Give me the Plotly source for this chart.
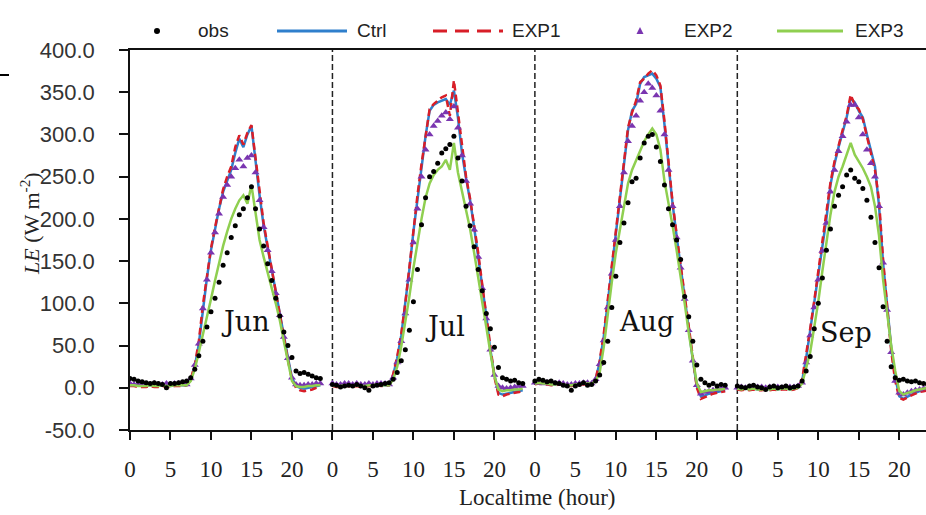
import plotly.graph_objects as go

# Half-hourly local time within one month's mean diurnal cycle
HALF_HOURS = [i * 0.5 for i in range(48)]
MONTHS = ["Jun", "Jul", "Aug", "Sep"]
MONTH_SPAN = 25  # hours reserved for each month on the shared x axis

# ---- Observed latent heat flux (W m-2) ----
jun_obs = [11, 10, 8, 7, 6, 5, 6, 5, 4, 0, 5, 5, 6, 7,
           8, 12, 22, 38, 55, 72, 90, 106, 125, 145, 160, 178, 192, 205, 212, 225, 238,
           212, 188, 168, 147, 127, 106, 85, 66, 50, 36, 20, 17, 18, 16, 14, 12, 11]
jul_obs = [4, 3, 1, 2, 3, 2, 4, 2, 0, -3, 2, 3, 4, 5,
           6, 10, 18, 32, 45, 68, 102, 140, 193, 225, 250, 256, 266, 278, 283, 288, 298,
           272, 245, 215, 192, 167, 140, 115, 88, 70, 48, 24, 12, 10, 8, 9, 6, 5]
aug_obs = [8, 10, 9, 7, 8, 6, 5, 3, 2, -3, 2, 4, 6, 3,
           4, 8, 15, 30, 55, 95, 132, 172, 195, 219, 244, 248, 272, 290, 298, 300, 285,
           268, 240, 212, 193, 175, 152, 108, 84, 55, 27, 10, 6, 3, 5, 2, 4, 3]
sep_obs = [2, 1, 0, 2, 3, 1, 0, -2, 1, 2, 0, 1, 2, 0,
           1, 2, 8, 20, 37, 70, 100, 130, 163, 188, 215, 228, 238, 252, 258, 248, 244,
           236, 222, 202, 172, 142, 96, 55, 25, 12, 9, 10, 8, 7, 8, 6, 5, 4]

# ---- Ctrl run ----
jun_ctrl = [4, 3, 3, 2, 2, 3, 2, 2, 3, 2, 2, 3, 3, 3,
            3, 10, 25, 52, 95, 130, 163, 188, 212, 232, 245, 258, 278, 295, 285, 300, 310,
            268, 228, 192, 165, 140, 115, 88, 62, 36, 12, 2, 0, -1, 0, 1, 2, 3]
jul_ctrl = [3, 2, 2, 3, 3, 2, 3, 2, 2, 3, 3, 4, 3, 3,
            3, 15, 35, 62, 98, 140, 185, 225, 262, 298, 328, 335, 338, 340, 342, 335, 352,
            320, 278, 248, 222, 190, 158, 120, 85, 45, 15, -6, -8, -7, -6, -5, -4, -3]
aug_ctrl = [5, 6, 5, 5, 4, 4, 5, 4, 3, 3, 4, 4, 5, 5,
            5, 10, 30, 60, 100, 140, 180, 222, 262, 305, 328, 336, 360, 368, 370, 372, 366,
            356, 312, 262, 218, 180, 145, 108, 70, 33, 2, -10, -9, -7, -6, -5, -4, -3]
sep_ctrl = [-1, -2, -1, -2, -1, -2, -2, -1, -2, -1, -2, -1, -1, -2,
            -1, 0, 8, 35, 68, 100, 135, 168, 200, 240, 265, 285, 302, 320, 343, 338, 328,
            320, 300, 280, 262, 215, 148, 98, 48, 12, -10, -13, -10, -8, -6, -4, -3, -2]

# ---- EXP1 run ----
jun_exp1 = [2, 2, 1, 1, 1, 2, 1, 1, 2, 1, 1, 2, 2, 2,
            3, 10, 27, 55, 98, 133, 165, 190, 214, 235, 250, 262, 285, 299, 288, 302, 311,
            272, 232, 195, 168, 142, 116, 88, 60, 33, 10, 0, -3, -4, -3, -2, 0, 1]
jul_exp1 = [2, 1, 1, 2, 2, 1, 2, 1, 1, 2, 2, 3, 2, 2,
            3, 16, 37, 64, 100, 143, 188, 228, 265, 300, 330, 336, 340, 344, 346, 322, 364,
            325, 282, 250, 224, 192, 160, 122, 86, 44, 13, -8, -10, -8, -7, -6, -5, -4]
aug_exp1 = [4, 5, 4, 4, 3, 3, 4, 3, 2, 2, 3, 3, 4, 4,
            4, 10, 32, 63, 103, 143, 184, 226, 266, 308, 326, 340, 362, 366, 372, 376, 370,
            358, 316, 265, 220, 182, 146, 108, 70, 32, 0, -13, -11, -9, -7, -6, -5, -4]
sep_exp1 = [-2, -3, -2, -3, -2, -3, -3, -2, -3, -2, -3, -2, -2, -3,
            -2, 0, 10, 38, 70, 103, 138, 172, 205, 243, 268, 288, 305, 322, 347, 335, 330,
            318, 298, 278, 258, 222, 152, 96, 44, 8, -12, -14, -11, -9, -7, -5, -4, -3]

# ---- EXP2 run ----
jun_exp2 = [5, 4, 4, 5, 4, 4, 5, 4, 4, 5, 4, 5, 5, 5,
            4, 11, 27, 52, 94, 128, 160, 184, 206, 226, 240, 250, 260, 270, 262, 272, 275,
            255, 222, 190, 163, 138, 112, 86, 60, 35, 12, 4, 3, 3, 4, 4, 5, 5]
jul_exp2 = [5, 4, 4, 5, 5, 4, 5, 4, 4, 5, 4, 5, 5, 5,
            4, 12, 30, 55, 88, 128, 172, 212, 250, 282, 300, 310, 316, 322, 326, 318, 333,
            308, 275, 245, 218, 187, 155, 118, 82, 45, 15, 2, 0, -1, 0, 1, 2, 2]
aug_exp2 = [6, 6, 5, 6, 5, 5, 6, 5, 4, 4, 5, 5, 6, 6,
            5, 10, 28, 56, 95, 135, 175, 215, 255, 292, 310, 322, 340, 350, 360, 355, 346,
            328, 300, 258, 215, 178, 142, 105, 68, 32, 3, -7, -5, -4, -3, -2, -1, 0]
sep_exp2 = [0, 1, 0, 1, 0, 1, 1, 0, 1, 0, 1, 0, 1, 1,
            1, 2, 6, 30, 62, 95, 128, 162, 195, 232, 258, 280, 298, 315, 335, 335, 320,
            300, 282, 266, 250, 215, 148, 92, 42, 8, -6, -8, -6, -4, -3, -2, -1, 0]

# ---- EXP3 run ----
jun_exp3 = [3, 3, 2, 2, 2, 3, 2, 2, 3, 2, 2, 3, 3, 3,
            3, 8, 22, 42, 62, 83, 105, 127, 148, 168, 185, 200, 212, 222, 228, 218, 240,
            205, 175, 155, 135, 118, 100, 80, 55, 30, 8, 2, 1, 1, 2, 2, 3, 3]
jul_exp3 = [3, 2, 2, 3, 3, 2, 3, 2, 2, 3, 3, 4, 3, 3,
            3, 10, 25, 49, 78, 108, 142, 172, 200, 225, 242, 252, 258, 262, 270, 258, 290,
            255, 232, 210, 188, 160, 132, 104, 72, 42, 14, -2, -4, -3, -3, -2, -2, -1]
aug_exp3 = [5, 6, 5, 5, 4, 4, 5, 4, 3, 3, 4, 4, 5, 5,
            5, 8, 18, 48, 90, 125, 160, 187, 215, 242, 258, 270, 282, 292, 300, 307, 300,
            282, 245, 220, 192, 163, 133, 100, 65, 32, 5, -5, -4, -3, -3, -2, -2, -1]
sep_exp3 = [-1, -2, -1, -2, -1, -2, -2, -1, -2, -1, -2, -1, -1, -2,
            -1, 0, 5, 25, 42, 72, 102, 138, 172, 205, 232, 250, 262, 276, 290, 276, 268,
            260, 250, 238, 215, 180, 128, 90, 50, 20, -4, -8, -6, -5, -3, -2, -1, 0]

Y_TICKS = [-50, 0, 50, 100, 150, 200, 250, 300, 350, 400]
Y_TICK_TEXT = ["-50.0", "0.0", "50.0", "100.0", "150.0", "200.0",
               "250.0", "300.0", "350.0", "400.0"]
X_TICK_HOURS = [0, 5, 10, 15, 20]

SERIES = [
    # name, monthly data, colour
    ("Ctrl", [jun_ctrl, jul_ctrl, aug_ctrl, sep_ctrl], "#2f7fcc"),
    ("EXP1", [jun_exp1, jul_exp1, aug_exp1, sep_exp1], "#d81e28"),
    ("EXP2", [jun_exp2, jul_exp2, aug_exp2, sep_exp2], "#7a35b0"),
    ("EXP3", [jun_exp3, jul_exp3, aug_exp3, sep_exp3], "#8fcf50"),
    ("obs", [jun_obs, jul_obs, aug_obs, sep_obs], "#000000"),
]

for name, months, _ in SERIES:
    for m in months:
        assert len(m) == len(HALF_HOURS), (name, len(m))


def chain(months):
    """Concatenate the monthly cycles along the shared axis, with breaks between months."""
    xs, ys = [], []
    for k, vals in enumerate(months):
        xs += [MONTH_SPAN * k + h for h in HALF_HOURS] + [None]
        ys += list(vals) + [None]
    return xs, ys


fig = go.Figure()
for name, months, color in SERIES:
    xs, ys = chain(months)
    if name == "obs":
        tr = go.Scatter(x=xs, y=ys, mode="markers", name=name,
                        marker=dict(symbol="circle", size=5, color=color))
    elif name == "EXP2":
        tr = go.Scatter(x=xs, y=ys, mode="markers", name=name,
                        marker=dict(symbol="triangle-up", size=7, color=color))
    elif name == "EXP1":
        tr = go.Scatter(x=xs, y=ys, mode="lines", name=name,
                        line=dict(color=color, width=2.5, dash="7px,4px"))
    else:
        tr = go.Scatter(x=xs, y=ys, mode="lines", name=name,
                        line=dict(color=color, width=2.5))
    fig.add_trace(tr)

# dashed separators between months
for k in range(1, len(MONTHS)):
    fig.add_shape(type="line", xref="x", yref="y",
                  x0=MONTH_SPAN * k, x1=MONTH_SPAN * k, y0=-50, y1=400,
                  line=dict(color="#222222", width=1.5, dash="6px,3px"), layer="below")

# month names inside each panel
MONTH_LABEL_POS = [(14.3, 78), (38.9, 72), (63.8, 78), (88.4, 66)]
for name, (mx, my) in zip(MONTHS, MONTH_LABEL_POS):
    fig.add_annotation(x=mx, y=my, xref="x", yref="y", text=name, showarrow=False,
                       xanchor="center", yanchor="middle",
                       font=dict(family="DejaVu Serif", size=27, color="#111111"))

# ---- legend across the top (drawn in pixels from the plot origin) ----
L, T, W, H = 130, 50, 796, 380


def px(xp):
    return (xp - L) / W


def py(yp):
    return (T + H - yp) / H


LEG_Y = 31
LEG_FONT = dict(family="Liberation Sans", size=19, color="#222222")
fig.add_shape(type="circle", xref="paper", yref="paper",
              xsizemode="pixel", ysizemode="pixel",
              xanchor=px(157), yanchor=py(LEG_Y), x0=-3, x1=3, y0=-3, y1=3,
              fillcolor="#000000", line=dict(width=0))
fig.add_shape(type="line", xref="paper", yref="paper", x0=px(277), x1=px(347),
              y0=py(LEG_Y), y1=py(LEG_Y), line=dict(color="#2f7fcc", width=3))
fig.add_shape(type="line", xref="paper", yref="paper", x0=px(433), x1=px(503),
              y0=py(LEG_Y), y1=py(LEG_Y), line=dict(color="#d81e28", width=3, dash="14px,8px"))
fig.add_shape(type="path", xref="paper", yref="paper",
              xsizemode="pixel", ysizemode="pixel",
              xanchor=px(640), yanchor=py(LEG_Y), path="M -3.5 -3 L 3.5 -3 L 0 4 Z",
              fillcolor="#7a35b0", line=dict(width=0))
fig.add_shape(type="line", xref="paper", yref="paper", x0=px(777), x1=px(843),
              y0=py(LEG_Y), y1=py(LEG_Y), line=dict(color="#8fcf50", width=3))
for label, left in [("obs", 196), ("Ctrl", 355), ("EXP1", 510), ("EXP2", 682), ("EXP3", 853)]:
    fig.add_annotation(x=px(left), y=py(LEG_Y), xref="paper", yref="paper", text=label,
                       showarrow=False, xanchor="left", yanchor="middle", font=LEG_FONT)

# small stray rule at the far left edge
fig.add_shape(type="line", xref="paper", yref="paper", x0=px(0), x1=px(9),
              y0=py(75), y1=py(75), line=dict(color="#000000", width=2))

# axis titles
fig.add_annotation(x=px(30), y=py(224), xref="paper", yref="paper",
                   text="<i>LE</i> (W m<sup>-2</sup>)", textangle=-90, showarrow=False,
                   xanchor="center", yanchor="middle",
                   font=dict(family="Liberation Serif", size=22, color="#222222"))
fig.add_annotation(x=px(537), y=py(497), xref="paper", yref="paper",
                   text="Localtime (hour)", showarrow=False,
                   xanchor="center", yanchor="middle",
                   font=dict(family="Liberation Serif", size=23, color="#222222"))

tickvals, ticktext = [], []
for k in range(len(MONTHS)):
    for h in X_TICK_HOURS:
        tickvals.append(MONTH_SPAN * k + h)
        ticktext.append(str(h))

fig.update_layout(
    width=926, height=515,
    margin=dict(l=L, r=0, t=T, b=515 - T - H),
    paper_bgcolor="white", plot_bgcolor="white",
    showlegend=False,
    xaxis=dict(range=[0, 98.3], tickvals=tickvals, ticktext=ticktext,
               showgrid=False, zeroline=False, showline=True, mirror=True,
               linecolor="#111111", linewidth=1.5,
               ticks="outside", ticklen=8, tickwidth=1.5, tickcolor="#111111",
               ticklabelstandoff=10,
               tickfont=dict(family="Liberation Serif", size=23, color="#222222")),
    yaxis=dict(range=[-50, 400], tickvals=Y_TICKS, ticktext=Y_TICK_TEXT,
               showgrid=False, zeroline=False, showline=True,
               linecolor="#111111", linewidth=1.5,
               ticks="outside", ticklen=9, tickwidth=1.5, tickcolor="#111111",
               ticklabelstandoff=20,
               tickfont=dict(family="Liberation Sans", size=22, color="#333333")),
)

fig.write_html("out.html")
